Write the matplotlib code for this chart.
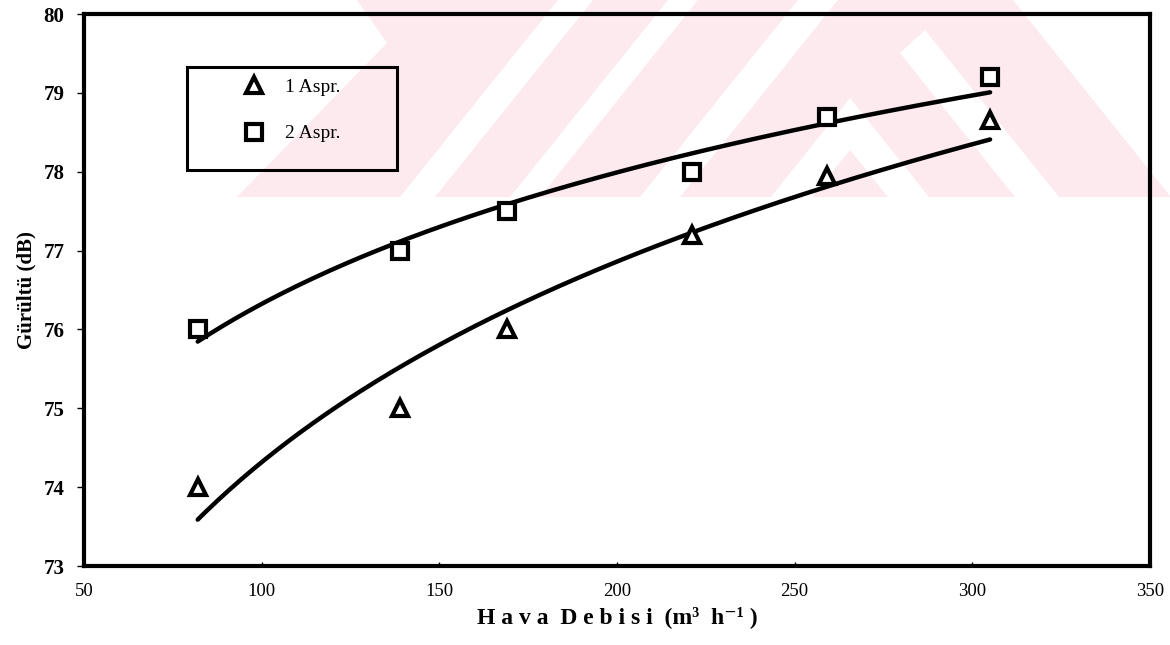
import numpy as np
import matplotlib
matplotlib.use("Agg")
import matplotlib.pyplot as plt
from matplotlib.patches import Polygon, Rectangle
from matplotlib.lines import Line2D

# ---------------- data ----------------
flow_1 = [82, 139, 169, 221, 259, 305]          # Hava Debisi (m3/h)
noise_1 = [74.0, 75.0, 76.0, 77.2, 77.95, 78.65]  # 1 Aspr.
flow_2 = [82, 139, 169, 221, 259, 305]
noise_2 = [76.0, 77.0, 77.5, 78.0, 78.7, 79.2]    # 2 Aspr.
series_labels = ["1 Aspr.", "2 Aspr."]
x_ticks = [50, 100, 150, 200, 250, 300, 350]
y_ticks = [73, 74, 75, 76, 77, 78, 79, 80]

SERIF = ["Liberation Serif", "DejaVu Serif"]
plt.rcParams["font.family"] = SERIF

W, H, DPI = 1170, 645, 100
fig = plt.figure(figsize=(W / DPI, H / DPI), dpi=DPI)
fig.patch.set_facecolor("white")

# ---------------- faint background watermark (decoration, pixel coords) ----------------
PINK = "#fdeaee"
wm_band = [(357, 0), (1013, 0), (1170, 196), (1170, 197), (237, 197), (387, 43)]
wm_white = [
    [(400, 197), (435, 197), (593, 0), (558, 0)],
    [(510, 197), (540, 197), (698, 0), (668, 0)],
    [(640, 197), (680, 197), (838, 0), (798, 0)],
    [(900, 53), (925, 30), (1059, 197), (1015, 197)],
    [(771, 197), (850, 98), (929, 197), (888, 197), (850, 150), (812, 197)],
]


def to_disp(pts):
    return [(x, H - y) for x, y in pts]


fig.add_artist(Polygon(to_disp(wm_band), closed=True, transform=None,
                       facecolor=PINK, edgecolor="none", zorder=-10))
for poly in wm_white:
    fig.add_artist(Polygon(to_disp(poly), closed=True, transform=None,
                           facecolor="white", edgecolor="none", zorder=-9))

# ---------------- axes ----------------
ax = fig.add_axes([84 / W, 1 - 566 / H, (1150 - 84) / W, (566 - 14) / H])
ax.set_facecolor("none")

marker_kw = dict(linestyle="none", markerfacecolor="white", markeredgecolor="black",
                 markeredgewidth=3.0, markersize=12, zorder=4)

# logarithmic trend lines fitted to each series
for fx, ny in ((flow_1, noise_1), (flow_2, noise_2)):
    b, a = np.polyfit(np.log(fx), ny, 1)
    xs = np.linspace(min(fx), max(fx), 200)
    ax.plot(xs, a + b * np.log(xs), color="black", lw=3.2, zorder=3,
            solid_capstyle="round")

ax.plot(flow_1, noise_1, marker="^", **marker_kw)
ax.plot(flow_2, noise_2, marker="s", **{**marker_kw, "markersize": 11})

ax.set_xlim(50, 350)
ax.set_ylim(73, 80)
ax.set_xticks(x_ticks)
ax.set_yticks(y_ticks)
ax.tick_params(axis="y", direction="out", length=5, width=1, pad=9,
               labelsize=15)
ax.tick_params(axis="x", direction="in", length=3, width=1, pad=12,
               labelsize=13.5)
for lab in ax.get_yticklabels():
    lab.set_fontweight("bold")

for sp in ax.spines.values():
    sp.set_linewidth(3.0)
    sp.set_color("black")

ax.set_ylabel("Gürültü (dB)", fontsize=15, fontweight="bold", family=SERIF)
ax.yaxis.set_label_coords(-0.045, 0.5)
ax.set_xlabel("H a v a  D e b i s i  (m³  h⁻¹ )", fontsize=17,
              fontweight="bold", family=SERIF)
ax.xaxis.set_label_coords(0.5, -0.072)

# ---------------- legend ----------------
ax.add_patch(Rectangle(((187 - 84) / 1066, (566 - 170) / 552),
                       210 / 1066, 103 / 552, transform=ax.transAxes,
                       fill=False, edgecolor="black", lw=2.2, zorder=5))
handles = [
    Line2D([], [], marker="^", **marker_kw),
    Line2D([], [], marker="s", **{**marker_kw, "markersize": 11}),
]
leg = ax.legend(handles, series_labels, loc="upper left",
                bbox_to_anchor=((244 - 84) / 1066, (566 - 78) / 552),
                frameon=False, fontsize=14, handlelength=1.0,
                handletextpad=1.1, labelspacing=1.5, borderpad=0,
                borderaxespad=0)

fig.savefig("out.png", dpi=DPI)
